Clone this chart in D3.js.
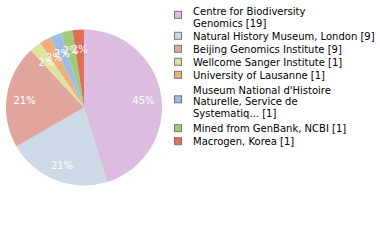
<!DOCTYPE html>
<html>
<head>
<meta charset="utf-8">
<script src="https://cdn.jsdelivr.net/npm/d3@7"></script>
<style>
  body { margin: 0; background: #fff; }
  text { font-family: "DejaVu Sans", sans-serif; }
</style>
</head>
<body>
<div id="chart"></div>
<script>
// institutions and their record counts
var categories = [
    ["Centre for Biodiversity", "Genomics [19]"],
    ["Natural History Museum, London [9]"],
    ["Beijing Genomics Institute [9]"],
    ["Wellcome Sanger Institute [1]"],
    ["University of Lausanne [1]"],
    ["Museum National d'Histoire", "Naturelle, Service de", "Systematiq... [1]"],
    ["Mined from GenBank, NCBI [1]"],
    ["Macrogen, Korea [1]"]
]
var values = [19, 9, 9, 1, 1, 1, 1, 1]
var colors = ["#dcbcdf", "#ccd9e6", "#e0a69e", "#dee3a0", "#f0ae7a", "#9ebde6", "#9fcb7f", "#e07055"]

var width = 380,
    height = 240

var cx = 84, cy = 107.5, radius = 78

var svg = d3.select("#chart")
    .append("svg")
    .attr("width", width)
    .attr("height", height)

var total = d3.sum(values)

var pie = d3.pie()
    .sort(null)
    .value(function (d) { return d })
var data_ready = pie(values)

var arc = d3.arc()
    .innerRadius(0)
    .outerRadius(radius)

var labelArc = d3.arc()
    .innerRadius(radius * 0.77)
    .outerRadius(radius * 0.77)

var g = svg.append("g")
    .attr("transform", "translate(" + cx + "," + cy + ")")

g.selectAll("allSlices")
    .data(data_ready)
    .enter()
    .append("path")
    .attr("d", arc)
    .attr("fill", function (d, i) { return colors[i] })

g.selectAll("allLabels")
    .data(data_ready)
    .enter()
    .append("text")
    .text(function (d) { return Math.round(d.data / total * 100) + "%" })
    .attr("transform", function (d) { return "translate(" + labelArc.centroid(d) + ")" })
    .attr("text-anchor", "middle")
    .attr("dy", "0.52em")
    .attr("fill", "#fff")
    .style("font-size", "10px")

// legend
var legend = svg.append("g")
var lineH = 11.5
var y = 15
categories.forEach(function (lines, i) {
    var n = lines.length
    var pad = Math.max(0, n - 2) * 2.2
    y += pad
    var item = legend.append("g")
    lines.forEach(function (line, j) {
        item.append("text")
            .attr("x", 193)
            .attr("y", y + j * lineH)
            .style("font-size", "10px")
            .attr("fill", "#000")
            .text(line)
    })
    var mid = y + (n - 1) * lineH / 2 - 3.7 - (n > 1 ? 2.2 : 0)
    item.append("rect")
        .attr("x", 174.5)
        .attr("y", mid - 3.5)
        .attr("width", 7)
        .attr("height", 7)
        .attr("fill", colors[i])
        .attr("stroke", "#777")
    y += (n - 1) * lineH + 13 + pad
})
</script>
</body>
</html>
